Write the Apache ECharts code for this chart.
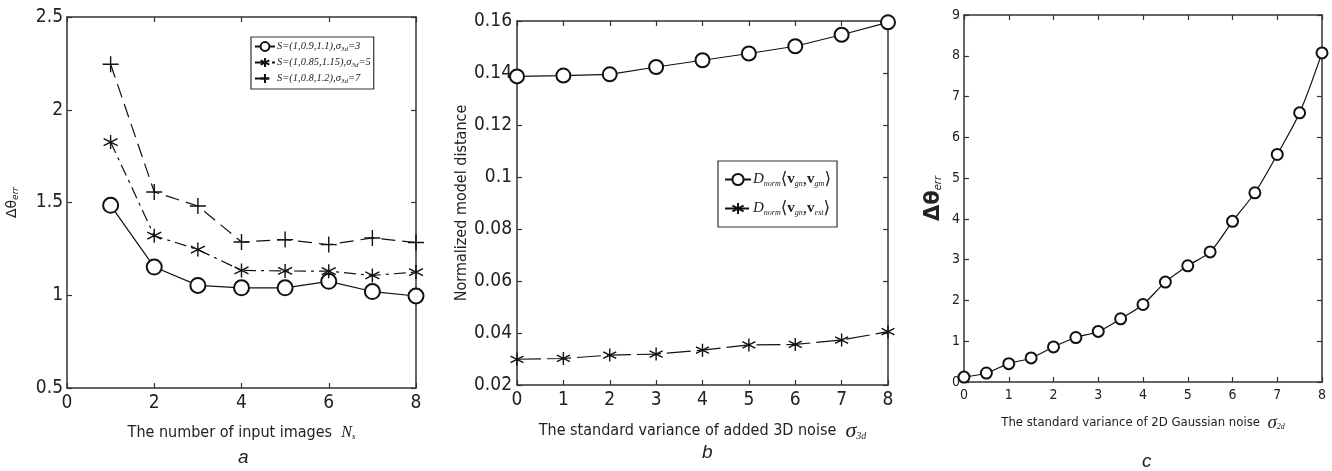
<!DOCTYPE html>
<html>
<head>
<meta charset="utf-8">
<script src="https://cdn.jsdelivr.net/npm/echarts@6/dist/echarts.min.js"></script>
<style>
  html, body { margin: 0; padding: 0; background: #fff; }
  #chart { width: 1332px; height: 471px; }
</style>
</head>
<body>
<div id="chart"></div>
<script>
  // panel a: error vs number of input images
  const xA = [1, 2, 3, 4, 5, 6, 7, 8];
  const aCircle = [1.485, 1.152, 1.053, 1.040, 1.040, 1.075, 1.020, 0.996];
  const aStar = [1.826, 1.321, 1.246, 1.134, 1.131, 1.130, 1.107, 1.125];
  const aPlus = [2.245, 1.557, 1.481, 1.287, 1.300, 1.273, 1.309, 1.284];
  const aNames = ['S=(1,0.9,1.1), σ3d=3', 'S=(1,0.85,1.15), σ3d=5', 'S=(1,0.8,1.2), σ3d=7'];

  // panel b: normalized model distance vs 3D noise
  const xB = [0, 1, 2, 3, 4, 5, 6, 7, 8];
  const bCircle = [0.1387, 0.1390, 0.1395, 0.1423, 0.1449, 0.1475, 0.1503, 0.1547, 0.1595];
  const bStar = [0.0299, 0.0302, 0.0315, 0.0319, 0.0334, 0.0354, 0.0356, 0.0373, 0.0405];
  const bNames = ['Dnorm(vgn,vgm)', 'Dnorm(vgn,vest)'];

  // panel c: error vs 2D gaussian noise
  const xC = [0, 0.5, 1, 1.5, 2, 2.5, 3, 3.5, 4, 4.5, 5, 5.5, 6, 6.5, 7, 7.5, 8];
  const cVals = [0.12, 0.22, 0.45, 0.59, 0.86, 1.09, 1.24, 1.55, 1.90, 2.45, 2.85, 3.19, 3.94, 4.64, 5.58, 6.60, 8.07];

  const NARROW = "'Liberation Sans Narrow', 'DejaVu Sans Condensed', sans-serif";
  const SERIF = "'Liberation Serif', 'DejaVu Serif', serif";
  const STAR = 'path://M0,-10L0,10M-8.66,-5L8.66,5M-8.66,5L8.66,-5';
  const PLUS = 'path://M0,-10L0,10M-10,0L10,0';

  const pair = (xs, ys) => xs.map((x, i) => [x, ys[i]]);

  function axisPair(grid, min, max, interval, fontSize, margin, isX, extra) {
    const base = {
      type: 'value', gridIndex: grid, min: min, max: max, interval: interval,
      splitLine: { show: false },
      axisLine: { show: true, onZero: false, lineStyle: { color: '#333', width: 1.5 } },
      axisTick: { show: true, inside: true, length: 5, lineStyle: { color: '#333', width: 1.2 } }
    };
    const main = Object.assign({}, base, {
      position: isX ? 'bottom' : 'left',
      axisLabel: {
        show: true, color: '#222', fontSize: fontSize, fontFamily: NARROW, margin: margin,
        showMinLabel: true, showMaxLabel: true,
        formatter: v => String(Number(v.toFixed(2)))
      }
    }, extra);
    const other = Object.assign({}, base, {
      position: isX ? 'top' : 'right',
      axisLabel: { show: false }
    });
    return [main, other];
  }

  const titleFont = { fontSize: 19, fontStyle: 'italic', fontWeight: 'normal', fontFamily: 'Liberation Sans, sans-serif', color: '#222' };

  const myChart = echarts.init(document.getElementById('chart'));
  const option = {
    backgroundColor: '#fff',
    animation: false,
    title: [
      { text: 'a', left: 233, top: 443, textStyle: titleFont },
      { text: 'b', left: 697, top: 438, textStyle: titleFont },
      { text: 'c', left: 1137, top: 447, textStyle: titleFont }
    ],
    grid: [
      { left: 67, top: 17, width: 349, height: 371 },
      { left: 517, top: 21, width: 371, height: 364 },
      { left: 964, top: 15, width: 358, height: 367 }
    ],
    legend: [
      {
        data: aNames, left: 251, top: 37, orient: 'vertical',
        padding: [4, 3, 4, 3], itemGap: 4, itemWidth: 20, itemHeight: 11,
        borderColor: '#333', borderWidth: 1.2, backgroundColor: '#fff',
        formatter: name => {
          const p = name.split(', σ3d=');
          return '{t|' + p[0] + ',σ}{sub|3d}{t|=' + p[1] + '}';
        },
        textStyle: {
          padding: [0, 0, 0, -3],
          rich: {
            t: { fontFamily: SERIF, fontStyle: 'italic', fontSize: 10.5, color: '#222' },
            sub: { fontFamily: SERIF, fontStyle: 'italic', fontSize: 7, color: '#222', padding: [6, 0, 0, 0] }
          }
        }
      },
      {
        data: bNames, left: 718, top: 161, orient: 'vertical',
        padding: [10, 6, 10, 6], itemGap: 12, itemWidth: 26, itemHeight: 14,
        borderColor: '#333', borderWidth: 1.2, backgroundColor: '#fff',
        formatter: name => {
          const s = name === bNames[0] ? 'gm' : 'est';
          return '{d|D}{sub|norm}{b|⟨}{v|v}{sub|gn}{b|,}{v|v}{sub|' + s + '}{b|⟩}';
        },
        textStyle: {
          padding: [0, 0, 0, -3],
          rich: {
            d: { fontFamily: SERIF, fontStyle: 'italic', fontSize: 15, color: '#222' },
            b: { fontFamily: SERIF, fontSize: 17, color: '#222' },
            v: { fontFamily: SERIF, fontWeight: 'bold', fontSize: 15, color: '#222' },
            sub: { fontFamily: SERIF, fontStyle: 'italic', fontSize: 8, color: '#222', padding: [8, 0, 0, 0] }
          }
        }
      }
    ],
    xAxis: [].concat(
      axisPair(0, 0, 8, 2, 19, 6, true, {
        name: '{t|The number of input images  }{n|N}{s|s}', nameLocation: 'middle', nameGap: 36,
        nameTextStyle: {
          rich: {
            t: { fontFamily: NARROW, fontSize: 16, color: '#222' },
            n: { fontFamily: SERIF, fontStyle: 'italic', fontSize: 16, color: '#222' },
            s: { fontFamily: SERIF, fontStyle: 'italic', fontSize: 9, color: '#222', padding: [8, 0, 0, 0] }
          }
        }
      }),
      axisPair(1, 0, 8, 1, 19, 6, true, {
        name: '{t|The standard variance of added 3D noise  }{n|σ}{s|3d}', nameLocation: 'middle', nameGap: 35,
        nameTextStyle: {
          rich: {
            t: { fontFamily: NARROW, fontSize: 16, color: '#222' },
            n: { fontFamily: SERIF, fontStyle: 'italic', fontSize: 22, color: '#222' },
            s: { fontFamily: SERIF, fontStyle: 'italic', fontSize: 10, color: '#222', padding: [10, 0, 0, 0] }
          }
        }
      }),
      axisPair(2, 0, 8, 1, 14, 6, true, {
        name: '{t|The standard variance of 2D Gaussian noise  }{n|σ}{s|2d}', nameLocation: 'middle', nameGap: 31,
        nameTextStyle: {
          rich: {
            t: { fontFamily: NARROW, fontSize: 13, color: '#222' },
            n: { fontFamily: SERIF, fontStyle: 'italic', fontSize: 19, color: '#222' },
            s: { fontFamily: SERIF, fontStyle: 'italic', fontSize: 8, color: '#222', padding: [9, 0, 0, 0] }
          }
        }
      })
    ),
    yAxis: [].concat(
      axisPair(0, 0.5, 2.5, 0.5, 19, 4, false, {
        name: '{n|Δθ}{s|err}', nameLocation: 'middle', nameGap: 47,
        nameTextStyle: {
          rich: {
            n: { fontFamily: 'DejaVu Sans, sans-serif', fontSize: 14, color: '#222' },
            s: { fontFamily: 'DejaVu Sans, sans-serif', fontStyle: 'italic', fontSize: 9, color: '#222', padding: [7, 0, 0, 0] }
          }
        }
      }),
      axisPair(1, 0.02, 0.16, 0.02, 19, 5, false, {
        name: 'Normalized model distance', nameLocation: 'middle', nameGap: 47,
        nameTextStyle: { fontFamily: NARROW, fontSize: 16, color: '#222' }
      }),
      axisPair(2, 0, 9, 1, 14, 4, false, {
        name: '{n|Δθ}{s|err}', nameLocation: 'middle', nameGap: 20,
        nameTextStyle: {
          rich: {
            n: { fontFamily: 'DejaVu Sans, sans-serif', fontWeight: 'bold', fontSize: 21, color: '#222' },
            s: { fontFamily: 'DejaVu Sans, sans-serif', fontStyle: 'italic', fontSize: 10, color: '#222', padding: [10, 0, 0, 0] }
          }
        }
      })
    ),
    series: [
      {
        name: aNames[0], type: 'line', xAxisIndex: 0, yAxisIndex: 0, data: pair(xA, aCircle),
        symbol: 'emptyCircle', symbolSize: 15, clip: false,
        lineStyle: { color: '#111', width: 1.2 },
        itemStyle: { color: '#111', borderWidth: 1.2 }
      },
      {
        name: aNames[1], type: 'line', xAxisIndex: 0, yAxisIndex: 0, data: pair(xA, aStar),
        symbol: STAR, symbolSize: 14, clip: false,
        lineStyle: { color: '#111', width: 1.2, type: [12, 5, 3, 5] },
        itemStyle: { color: '#111', borderColor: '#111', borderWidth: 1.4 }
      },
      {
        name: aNames[2], type: 'line', xAxisIndex: 0, yAxisIndex: 0, data: pair(xA, aPlus),
        symbol: PLUS, symbolSize: 16, clip: false,
        lineStyle: { color: '#111', width: 1.2, type: [14, 7] },
        itemStyle: { color: '#111', borderColor: '#111', borderWidth: 1.4 }
      },
      {
        name: bNames[0], type: 'line', xAxisIndex: 2, yAxisIndex: 2, data: pair(xB, bCircle),
        symbol: 'emptyCircle', symbolSize: 14, clip: false,
        lineStyle: { color: '#111', width: 1.2 },
        itemStyle: { color: '#111', borderWidth: 1.2 }
      },
      {
        name: bNames[1], type: 'line', xAxisIndex: 2, yAxisIndex: 2, data: pair(xB, bStar),
        symbol: STAR, symbolSize: 13, clip: false,
        lineStyle: { color: '#111', width: 1.2, type: [24, 6] },
        itemStyle: { color: '#111', borderColor: '#111', borderWidth: 1.4 }
      },
      {
        name: 'c', type: 'line', xAxisIndex: 4, yAxisIndex: 4, data: pair(xC, cVals),
        symbol: 'emptyCircle', symbolSize: 11, clip: false, smooth: 0.3,
        lineStyle: { color: '#111', width: 1.2 },
        itemStyle: { color: '#111', borderWidth: 1.2 }
      }
    ]
  };
  option && myChart.setOption(option);
</script>
</body>
</html>
